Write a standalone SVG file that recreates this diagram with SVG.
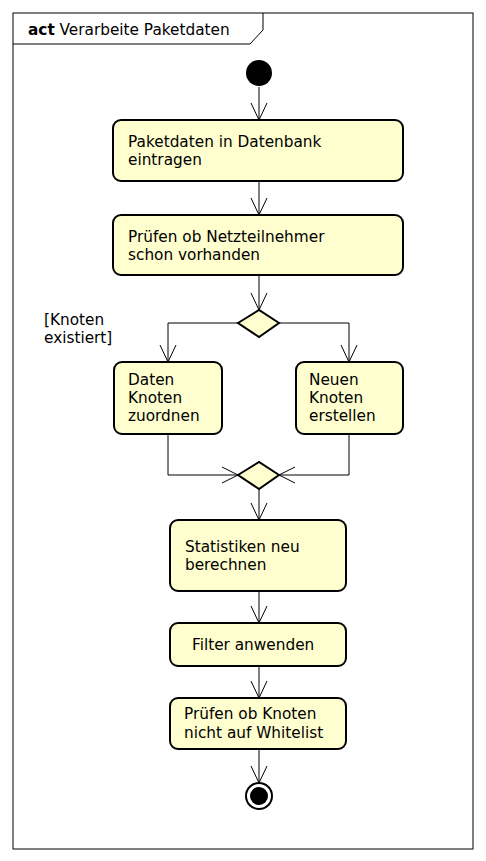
<svg xmlns="http://www.w3.org/2000/svg" width="486" height="861" viewBox="0 0 486 861">
<style>
.t{font-family:"DejaVu Sans",sans-serif;font-size:15.3px;fill:#000}
.box{fill:#FEFECE;stroke:#000;stroke-width:2}
.dia{fill:#FEFECE;stroke:#000;stroke-width:2}
.ln{fill:none;stroke:#000;stroke-width:1}
</style>
<rect width="486" height="861" fill="#fff"/>
<g id="frame">
<rect x="13" y="13" width="460" height="836" fill="none" stroke="#000" stroke-width="1"/>
<path d="M13,44 L250,44 L263,30 L263,13" fill="none" stroke="#000" stroke-width="1"/>
<text class="t" x="28" y="35"><tspan font-weight="bold">act</tspan> Verarbeite Paketdaten</text>
</g>
<g id="connectors">
<path class="ln" d="M259,87 V120 M251,103 L259,120 L267,103"/>
<path class="ln" d="M259,181 V215 M251,198 L259,215 L267,198"/>
<path class="ln" d="M259,275 V310 M251,293 L259,310 L267,293"/>
<path class="ln" d="M238,323 H168 V362 M160,345 L168,362 L176,345"/>
<path class="ln" d="M279,323 H349 V362 M341,345 L349,362 L357,345"/>
<path class="ln" d="M168,434 V475 H238 M222,467 L238,475 L222,483"/>
<path class="ln" d="M349,434 V475 H279 M295,467 L279,475 L295,483"/>
<path class="ln" d="M259,489 V520 M251,503 L259,520 L267,503"/>
<path class="ln" d="M259,591 V623 M251,606 L259,623 L267,606"/>
<path class="ln" d="M259,666 V698 M251,681 L259,698 L267,681"/>
<path class="ln" d="M259,749 V783 M251,766 L259,783 L267,766"/>
</g>
<g id="start"><circle cx="259" cy="73" r="13" fill="#000"/></g>
<g id="n1">
<rect class="box" x="113" y="120" width="290" height="61" rx="8"/>
<text class="t" x="128" y="147">Paketdaten in Datenbank</text>
<text class="t" x="128" y="165">eintragen</text>
</g>
<g id="n2">
<rect class="box" x="113" y="215" width="290" height="60" rx="8"/>
<text class="t" x="128" y="242">Prüfen ob Netzteilnehmer</text>
<text class="t" x="128" y="260">schon vorhanden</text>
</g>
<g id="d1"><polygon class="dia" points="238,323 259,310 279,323 259,337"/></g>
<g id="guard"><text class="t" x="44" y="325">[Knoten</text><text class="t" x="44" y="343">existiert]</text></g>
<g id="n3">
<rect class="box" x="114" y="362" width="108" height="72" rx="8"/>
<text class="t" x="128" y="385">Daten</text>
<text class="t" x="128" y="403">Knoten</text>
<text class="t" x="128" y="421">zuordnen</text>
</g>
<g id="n4">
<rect class="box" x="296" y="362" width="107" height="72" rx="8"/>
<text class="t" x="309" y="385">Neuen</text>
<text class="t" x="309" y="403">Knoten</text>
<text class="t" x="309" y="421">erstellen</text>
</g>
<g id="d2"><polygon class="dia" points="238,475 259,462 279,475 259,489"/></g>
<g id="n5">
<rect class="box" x="170" y="520" width="176" height="71" rx="8"/>
<text class="t" x="185" y="552">Statistiken neu</text>
<text class="t" x="185" y="570">berechnen</text>
</g>
<g id="n6">
<rect class="box" x="170" y="623" width="176" height="43" rx="8"/>
<text class="t" x="192" y="650">Filter anwenden</text>
</g>
<g id="n7">
<rect class="box" x="170" y="698" width="176" height="51" rx="8"/>
<text class="t" x="184" y="719">Prüfen ob Knoten</text>
<text class="t" x="184" y="738">nicht auf Whitelist</text>
</g>
<g id="end">
<circle cx="259" cy="796" r="13" fill="none" stroke="#000" stroke-width="2"/>
<circle cx="259" cy="796" r="9" fill="#000"/>
</g>
</svg>
